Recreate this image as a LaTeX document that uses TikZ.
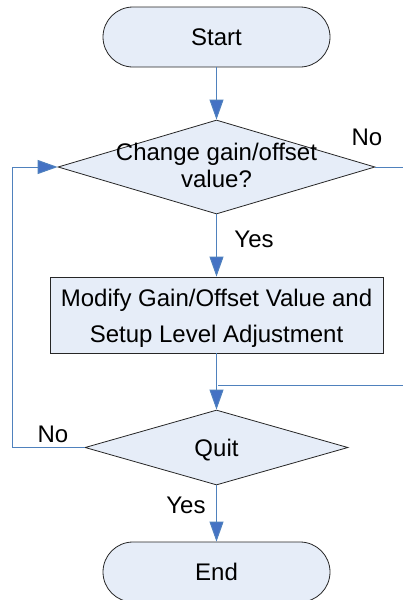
\documentclass[tikz,border=0pt]{standalone}
\usepackage{fontspec}
\setmainfont{Liberation Sans}
\usetikzlibrary{arrows.meta,shapes.geometric}
\definecolor{flowline}{RGB}{79,129,189}
\definecolor{flowtip}{RGB}{68,114,196}
\definecolor{boxfill}{RGB}{230,237,248}
\begin{document}
\begin{tikzpicture}[x=1pt,y=-1pt,
  every node/.style={font=\fontsize{24}{29}\selectfont, text=black},
  shapeline/.style={draw=black!85, fill=boxfill, line width=0.8pt, inner sep=0pt},
  terminal/.style={shapeline, rounded corners=30pt, minimum width=227pt, minimum height=60pt},
  decision/.style={shapeline, diamond},
  process/.style={shapeline, minimum width=333pt, minimum height=76pt},
  flow/.style={draw=flowline, line width=1pt},
  arrowflow/.style={flow, -{Triangle[length=20pt,width=14pt,fill=flowtip]}},
  lbl/.style={anchor=base, inner sep=0pt}
]
\clip (0,0) rectangle (403,600);
\useasboundingbox (0,0) rectangle (403,600);

% shapes
\node[terminal] (start) at (216.5,37) {};
\node[decision, minimum width=317pt, minimum height=94pt] (ask) at (216.5,167) {};
\node[process] (modify) at (216.5,315) {};
\node[decision, minimum width=263pt, minimum height=75pt] (quit) at (216.5,447.5) {};
\node[terminal] (finish) at (216.5,572) {};

% texts
\node[lbl] (starttext) at (216.5,45) {Start};
\node[lbl] (asktext1) at (216.5,160) {Change gain/offset};
\node[lbl] (asktext2) at (216.5,187) {value?};
\node[lbl] (modifytext1) at (216.5,306) {Modify Gain/Offset Value and};
\node[lbl] (modifytext2) at (216.5,342) {Setup Level Adjustment};
\node[lbl] (quittext) at (216.5,456) {Quit};
\node[lbl] (finishtext) at (216.5,580) {End};

% connectors
\draw[arrowflow] (start.south) -- (ask.north);
\draw[arrowflow] (ask.south) -- (modify.north);
\node[lbl] (yesone) at (254,247) {Yes};

\coordinate (noexit) at (403,167);
\draw[flow] (ask.east) -- (noexit);
\node[lbl] (noone) at (367,145) {No};

\draw[arrowflow] (modify.south) -- (quit.north);
\coordinate (rejoinin) at (403,385);
\coordinate (rejoin) at (218,385);
\draw[flow] (rejoinin) -- (rejoin);

\coordinate (loopbottom) at (12,447.5);
\coordinate (looptop) at (12,167);
\draw[arrowflow] (quit.west) -- (loopbottom) -- (looptop) -- (ask.west);
\node[lbl] (notwo) at (53,442) {No};

\draw[arrowflow] (quit.south) -- (finish.north);
\node[lbl] (yestwo) at (186,513) {Yes};
\end{tikzpicture}
\end{document}
